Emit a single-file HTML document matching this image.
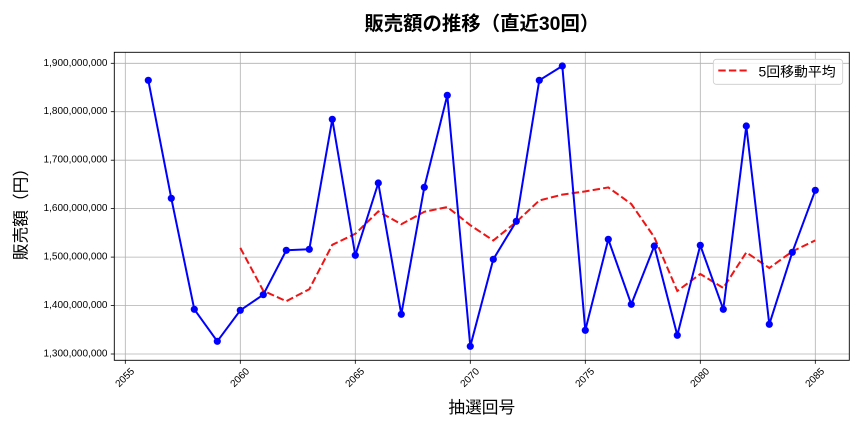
<!DOCTYPE html>
<html><head><meta charset="utf-8"><style>
html,body{margin:0;padding:0;background:#fff;}
svg{display:block;}
</style></head><body>
<svg width="864" height="432" viewBox="0 0 864 432" xmlns="http://www.w3.org/2000/svg">
<rect width="864" height="432" fill="#fff"/>
<text x="481.8" y="24" text-anchor="middle" dominant-baseline="central" font-family="'Liberation Sans','Noto Sans CJK JP',sans-serif" font-size="19.4" font-weight="bold" fill="#000">販売額の推移（直近30回）</text>
<g stroke="#b0b0b0" stroke-width="0.8">
<line x1="125.3" y1="52.3" x2="125.3" y2="360.3"/>
<line x1="240.3" y1="52.3" x2="240.3" y2="360.3"/>
<line x1="355.3" y1="52.3" x2="355.3" y2="360.3"/>
<line x1="470.3" y1="52.3" x2="470.3" y2="360.3"/>
<line x1="585.3" y1="52.3" x2="585.3" y2="360.3"/>
<line x1="700.3" y1="52.3" x2="700.3" y2="360.3"/>
<line x1="815.3" y1="52.3" x2="815.3" y2="360.3"/>
<line x1="114.3" y1="63.3" x2="849.3" y2="63.3"/>
<line x1="114.3" y1="111.7" x2="849.3" y2="111.7"/>
<line x1="114.3" y1="160.2" x2="849.3" y2="160.2"/>
<line x1="114.3" y1="208.6" x2="849.3" y2="208.6"/>
<line x1="114.3" y1="257.1" x2="849.3" y2="257.1"/>
<line x1="114.3" y1="305.5" x2="849.3" y2="305.5"/>
<line x1="114.3" y1="354.0" x2="849.3" y2="354.0"/>
</g>
<g stroke="#000" stroke-width="0.8">
<line x1="110.8" y1="63.3" x2="114.3" y2="63.3"/>
<line x1="110.8" y1="111.7" x2="114.3" y2="111.7"/>
<line x1="110.8" y1="160.2" x2="114.3" y2="160.2"/>
<line x1="110.8" y1="208.6" x2="114.3" y2="208.6"/>
<line x1="110.8" y1="257.1" x2="114.3" y2="257.1"/>
<line x1="110.8" y1="305.5" x2="114.3" y2="305.5"/>
<line x1="110.8" y1="354.0" x2="114.3" y2="354.0"/>
<line x1="125.3" y1="360.3" x2="125.3" y2="363.8"/>
<line x1="240.3" y1="360.3" x2="240.3" y2="363.8"/>
<line x1="355.3" y1="360.3" x2="355.3" y2="363.8"/>
<line x1="470.3" y1="360.3" x2="470.3" y2="363.8"/>
<line x1="585.3" y1="360.3" x2="585.3" y2="363.8"/>
<line x1="700.3" y1="360.3" x2="700.3" y2="363.8"/>
<line x1="815.3" y1="360.3" x2="815.3" y2="363.8"/>
</g>
<g font-family="'Liberation Sans',sans-serif" font-size="10" fill="#000" text-anchor="end" dominant-baseline="central">
<text x="107.5" y="63.3">1,900,000,000</text>
<text x="107.5" y="111.7">1,800,000,000</text>
<text x="107.5" y="160.2">1,700,000,000</text>
<text x="107.5" y="208.6">1,600,000,000</text>
<text x="107.5" y="257.1">1,500,000,000</text>
<text x="107.5" y="305.5">1,400,000,000</text>
<text x="107.5" y="354.0">1,300,000,000</text>
</g>
<g font-family="'Liberation Sans',sans-serif" font-size="10" fill="#000" text-anchor="middle" dominant-baseline="central">
<text transform="translate(125.3,378) rotate(-45)">2055</text>
<text transform="translate(240.3,378) rotate(-45)">2060</text>
<text transform="translate(355.3,378) rotate(-45)">2065</text>
<text transform="translate(470.3,378) rotate(-45)">2070</text>
<text transform="translate(585.3,378) rotate(-45)">2075</text>
<text transform="translate(700.3,378) rotate(-45)">2080</text>
<text transform="translate(815.3,378) rotate(-45)">2085</text>
</g>
<polyline fill="none" stroke="#f01414" stroke-width="2" stroke-dasharray="7.4 3.2" points="240.3,247.9 263.3,290.8 286.3,301.2 309.3,289.2 332.3,244.8 355.3,233.8 378.3,211.4 401.3,224.2 424.3,211.8 447.3,207 470.3,225.2 493.3,240.5 516.3,221.9 539.3,200.5 562.3,194.6 585.3,191.4 608.3,187.4 631.3,204 654.3,237.2 677.3,291 700.3,274 723.3,288 746.3,252.4 769.3,268 792.3,251.4 815.3,240.4"/>
<polyline fill="none" stroke="#0000ff" stroke-width="2" stroke-linejoin="round" points="148.3,80.3 171.3,198.3 194.3,309.3 217.3,341.3 240.3,310.3 263.3,294.7 286.3,250.3 309.3,249.3 332.3,119.3 355.3,255.3 378.3,183 401.3,314.3 424.3,187.3 447.3,95.3 470.3,346.3 493.3,259.3 516.3,221.3 539.3,80.3 562.3,66 585.3,330.3 608.3,239.3 631.3,304.3 654.3,246 677.3,335.3 700.3,245.3 723.3,309.3 746.3,126 769.3,324.3 792.3,252.3 815.3,190.3"/>
<g fill="#0000ff">
<circle cx="148.3" cy="80.3" r="3.6"/><circle cx="171.3" cy="198.3" r="3.6"/><circle cx="194.3" cy="309.3" r="3.6"/><circle cx="217.3" cy="341.3" r="3.6"/><circle cx="240.3" cy="310.3" r="3.6"/><circle cx="263.3" cy="294.7" r="3.6"/><circle cx="286.3" cy="250.3" r="3.6"/><circle cx="309.3" cy="249.3" r="3.6"/><circle cx="332.3" cy="119.3" r="3.6"/><circle cx="355.3" cy="255.3" r="3.6"/><circle cx="378.3" cy="183" r="3.6"/><circle cx="401.3" cy="314.3" r="3.6"/><circle cx="424.3" cy="187.3" r="3.6"/><circle cx="447.3" cy="95.3" r="3.6"/><circle cx="470.3" cy="346.3" r="3.6"/><circle cx="493.3" cy="259.3" r="3.6"/><circle cx="516.3" cy="221.3" r="3.6"/><circle cx="539.3" cy="80.3" r="3.6"/><circle cx="562.3" cy="66" r="3.6"/><circle cx="585.3" cy="330.3" r="3.6"/><circle cx="608.3" cy="239.3" r="3.6"/><circle cx="631.3" cy="304.3" r="3.6"/><circle cx="654.3" cy="246" r="3.6"/><circle cx="677.3" cy="335.3" r="3.6"/><circle cx="700.3" cy="245.3" r="3.6"/><circle cx="723.3" cy="309.3" r="3.6"/><circle cx="746.3" cy="126" r="3.6"/><circle cx="769.3" cy="324.3" r="3.6"/><circle cx="792.3" cy="252.3" r="3.6"/><circle cx="815.3" cy="190.3" r="3.6"/>
</g>
<rect x="114.3" y="52.3" width="735" height="308" fill="none" stroke="#000" stroke-width="0.9"/>
<rect x="713.3" y="59.3" width="129.4" height="25" rx="3" ry="3" fill="#fff" fill-opacity="0.8" stroke="#cccccc" stroke-width="0.8"/>
<line x1="718.3" y1="70.5" x2="746.7" y2="70.5" stroke="#f01414" stroke-width="2" stroke-dasharray="7.4 3.2"/>
<text x="758.5" y="71.3" dominant-baseline="central" font-family="'Liberation Sans','Noto Sans CJK JP',sans-serif" font-size="13.9" fill="#000">5回移動平均</text>
<text x="481.8" y="407.7" text-anchor="middle" dominant-baseline="central" font-family="'Liberation Sans','Noto Sans CJK JP',sans-serif" font-size="16.7" fill="#000">抽選回号</text>
<text transform="translate(21,210) rotate(-90)" text-anchor="middle" dominant-baseline="central" font-family="'Liberation Sans','Noto Sans CJK JP',sans-serif" font-size="16.7" fill="#000">販売額（円）</text>
</svg>
</body></html>
